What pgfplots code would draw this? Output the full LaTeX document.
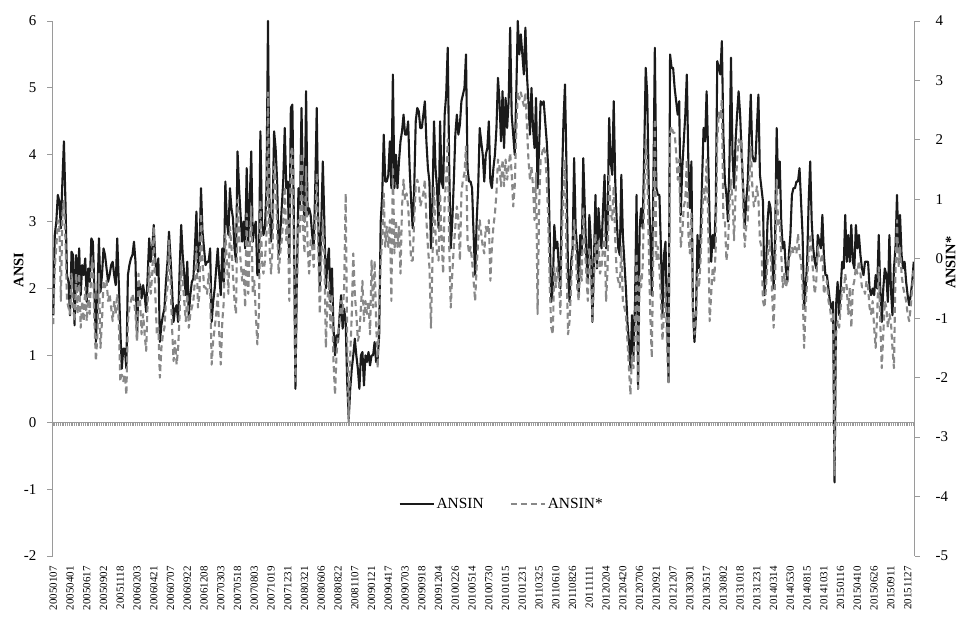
\documentclass[border=0pt]{standalone}
\usepackage{fontspec}
\setmainfont{Liberation Serif}
\usepackage{pgfplots}
\usepackage{pgfplotstable}
\pgfplotsset{compat=1.18}
\definecolor{axisgray}{HTML}{9A9A9A}
\definecolor{solidc}{HTML}{1A1A1A}
\definecolor{dashc}{HTML}{888888}
\pgfplotstableread{
ansin ansinstar
1.6 -1.10
2.8 -0.14
3.0 0.20
3.4 0.65
3.3 0.54
2.9 -0.71
3.6 0.76
4.2 0.99
3.3 0.31
2.2 -0.71
2.1 -0.82
1.6 -0.93
2.55 -0.25
2.5 -0.82
1.45 -1.05
2.5 -0.25
2.0 -0.93
2.6 -0.25
1.9 -1.16
2.35 -0.71
2.2 -1.05
2.45 -0.48
1.8 -1.05
2.3 -0.59
2.1 -0.93
2.75 -0.14
2.7 -0.03
2.0 -1.05
1.2 -1.72
1.9 -1.27
2.75 -0.25
1.95 -1.50
2.2 -1.05
2.6 -0.37
2.5 -0.48
2.3 -0.37
2.1 -0.71
2.2 -0.59
2.35 -0.82
2.4 -1.05
2.2 -0.71
2.05 -0.93
2.75 -0.59
2.1 -1.05
1.4 -2.06
0.8 -1.95
1.1 -2.06
1.1 -1.95
0.8 -2.29
2.2 -1.05
2.35 -0.82
2.45 -0.71
2.5 -0.59
2.7 -0.71
2.4 -0.93
1.25 -1.38
2.1 -0.25
2.05 -0.71
1.85 -1.27
2.05 -0.93
1.9 -1.27
1.65 -1.55
2.2 -0.71
2.75 -0.14
2.4 -0.59
2.6 -0.25
2.95 0.54
2.4 -0.59
2.2 -1.27
2.45 -1.16
1.2 -2.00
1.45 -1.50
1.6 -1.27
1.7 -1.16
2.1 -0.71
2.4 -0.48
2.85 0.31
2.45 -0.37
2.0 -1.16
1.5 -1.72
1.7 -1.38
1.75 -1.78
1.5 -1.50
2.3 -0.93
2.95 -0.03
2.5 -0.37
2.2 -0.71
1.9 -1.05
2.4 -0.59
1.6 -1.16
1.9 -0.93
2.1 -0.82
2.15 -0.71
2.6 -0.37
3.15 0.20
2.25 -0.82
2.5 -0.59
3.5 0.76
2.85 -0.03
2.6 -0.48
2.35 -0.48
2.4 -0.59
2.4 -0.25
2.6 -0.48
1.5 -1.78
1.8 -1.38
2.0 -1.16
2.3 -0.93
2.6 -0.59
2.2 -1.27
1.9 -1.78
2.6 -1.05
2.1 -0.71
3.6 0.42
3.0 -0.03
2.8 -0.59
3.5 0.54
3.2 0.20
3.05 -0.25
2.6 -0.71
2.4 -0.93
4.05 0.99
3.5 0.42
3.1 -0.03
2.7 -0.37
3.0 -0.14
2.6 -0.82
3.8 0.76
2.7 -0.59
3.3 0.20
4.05 0.88
2.7 -0.59
2.9 -0.37
3.0 -0.93
2.2 -1.44
2.2 -0.93
4.35 0.99
3.0 -0.03
2.8 -0.25
2.9 -0.03
3.5 0.42
6.0 2.80
3.2 0.20
2.7 -0.25
3.1 0.20
4.35 1.55
4.1 1.33
3.6 0.54
2.5 -0.25
2.8 0.09
3.2 0.31
3.6 0.65
4.4 1.22
3.5 0.31
3.6 0.65
2.4 -0.71
4.7 1.78
4.75 1.89
3.0 0.09
0.5 -2.06
2.2 -0.48
3.5 0.65
3.2 0.42
4.7 1.78
3.4 0.54
3.0 0.09
4.95 1.55
3.1 0.20
3.2 -0.25
3.1 0.31
2.8 0.20
2.6 -0.14
3.5 0.65
4.7 1.44
3.0 0.20
2.0 -0.93
3.0 -0.03
3.9 0.65
3.0 0.09
2.0 -1.50
2.4 -0.71
2.6 -0.37
1.8 -1.16
2.3 -0.59
1.4 -1.72
1.0 -2.29
1.3 -1.61
1.2 -1.27
1.6 -1.05
1.9 -0.71
1.4 -0.93
1.7 -0.48
1.5 1.10
0.6 -1.38
0.05 -2.74
0.5 -1.61
0.8 -0.93
1.0 0.09
1.25 -0.59
1.0 -0.93
0.8 -1.38
0.5 -1.27
1.0 -0.82
1.05 -0.37
0.55 -1.05
1.0 -0.71
0.9 -0.93
1.05 -0.71
0.85 -1.27
1.0 -0.03
1.0 -0.82
1.2 -0.03
0.9 -1.05
0.95 -1.84
1.3 -0.93
3.0 -0.03
3.4 0.31
4.3 1.10
3.6 0.20
3.6 0.54
3.7 0.20
4.2 0.65
3.5 -0.71
5.2 1.55
3.5 0.09
4.0 0.65
3.5 0.20
3.9 0.54
4.2 -0.25
4.35 0.88
4.6 1.33
4.3 0.99
4.3 1.10
4.5 0.88
3.8 0.42
3.3 -0.03
2.9 -0.03
3.5 0.65
4.5 1.22
4.7 1.33
4.65 1.22
4.4 0.88
4.4 0.99
4.6 1.10
4.8 1.33
4.2 0.65
3.8 0.20
3.6 -0.14
2.6 -1.16
3.3 -0.03
4.5 1.22
3.8 0.42
3.5 0.09
2.9 -0.03
4.5 1.10
3.6 0.31
3.5 -0.25
4.6 0.99
4.9 1.33
5.6 2.01
3.8 0.20
2.6 -0.82
3.0 -0.25
3.6 0.20
4.3 0.54
4.6 0.88
4.3 0.65
4.45 -0.03
4.8 1.10
4.9 1.33
5.0 1.44
5.5 1.89
3.8 0.31
3.6 0.09
3.6 0.20
3.5 -0.03
2.8 -0.37
2.2 -0.71
3.0 -0.14
3.5 0.31
4.4 0.65
4.2 0.42
4.0 0.20
3.6 0.09
4.0 0.54
4.1 0.42
4.5 0.65
3.6 -0.37
3.5 0.20
3.8 0.54
4.0 0.76
4.4 1.10
5.15 1.67
4.8 1.55
4.2 1.22
4.95 1.67
4.1 1.22
4.85 1.67
4.4 1.33
4.8 1.55
5.9 1.78
4.6 1.44
4.3 0.88
4.0 1.22
4.9 2.12
6.0 2.80
5.5 2.68
5.8 2.80
5.5 2.68
5.2 2.57
5.9 2.80
5.2 2.23
4.8 1.67
4.3 1.33
5.0 1.55
4.4 1.22
4.1 0.65
4.85 1.44
3.5 -0.93
4.1 0.88
4.8 1.67
4.75 1.78
4.8 1.89
4.5 1.78
4.2 1.33
3.8 0.65
2.8 -0.48
1.8 -1.16
2.0 -1.27
2.95 -0.14
2.6 -0.48
2.7 -0.14
2.3 -0.37
2.0 -0.93
3.6 0.42
4.5 1.10
5.05 1.67
3.8 -0.03
2.2 -1.27
1.8 -1.05
2.4 -0.48
2.6 0.09
3.95 0.65
2.9 0.20
2.6 -0.48
1.9 -0.71
2.8 -0.14
2.5 -0.37
3.95 0.88
3.2 0.20
2.5 -0.25
2.1 -0.71
3.1 0.20
2.7 -0.14
1.5 -1.05
2.4 -0.37
3.4 0.42
2.3 -0.14
3.2 0.31
2.8 -0.25
2.6 -0.14
3.2 0.20
3.7 0.42
2.6 -0.71
3.0 -0.14
4.55 1.44
3.9 0.76
3.7 0.65
4.8 1.22
3.6 0.31
3.0 -0.25
2.6 -0.37
2.5 -0.48
3.7 0.20
2.8 -0.71
2.4 -0.82
2.0 -0.93
1.5 -1.38
1.2 -1.84
0.8 -2.29
1.6 -1.61
1.0 -1.84
1.8 -1.16
3.4 0.09
0.5 -2.18
2.9 -0.25
3.2 -0.48
2.9 -0.14
4.0 0.99
5.3 2.01
4.9 1.55
3.5 0.20
2.8 -0.93
1.9 -1.67
3.5 0.09
5.6 2.35
3.5 -0.03
3.4 0.20
3.4 -0.14
2.6 -0.71
1.6 -1.38
2.5 -0.93
2.7 -0.48
1.5 -1.38
0.6 -2.12
5.5 2.12
5.3 2.23
5.3 2.12
5.0 2.12
4.8 1.78
4.6 1.33
4.8 1.67
3.1 0.20
3.8 0.42
4.2 0.88
4.6 0.99
5.2 1.67
3.9 0.42
3.2 0.09
3.9 0.76
1.7 -0.93
1.2 -1.27
1.6 -1.05
2.8 -0.25
2.3 -0.48
2.8 -0.03
3.6 0.65
4.4 1.22
4.2 0.99
4.95 1.67
4.0 0.65
3.0 -1.05
2.4 -0.59
2.8 -0.14
2.6 -0.37
3.2 0.20
5.4 2.01
5.3 2.46
5.2 2.35
5.7 2.68
4.3 0.65
3.6 0.65
3.4 -0.03
3.0 0.20
3.9 0.88
5.45 1.33
4.0 0.99
3.5 0.31
4.2 1.10
4.6 1.67
4.95 2.01
4.6 1.89
4.0 2.01
3.5 0.88
2.9 0.20
3.3 0.54
3.6 0.65
4.3 1.33
4.9 1.89
4.0 1.22
3.9 0.88
3.9 0.99
4.4 1.22
4.9 0.99
3.7 0.31
3.5 0.20
3.3 -0.71
1.9 -0.82
2.3 -0.48
3.0 -0.03
3.3 0.31
3.2 0.09
2.5 -0.59
2.0 -1.16
2.8 -0.25
4.4 1.33
3.5 0.54
3.9 0.65
3.0 0.09
2.6 -0.48
2.7 -0.25
2.3 -0.48
2.1 -0.37
2.5 -0.03
2.8 0.09
3.4 0.20
3.5 0.09
3.5 0.20
3.6 0.09
3.6 0.42
3.8 0.09
3.3 -0.03
2.8 -0.48
1.7 -1.50
2.0 -0.82
2.4 -0.37
3.3 0.09
3.9 0.42
3.0 0.09
2.6 -0.25
2.4 -0.59
2.3 -0.37
2.8 0.20
2.7 -0.03
2.6 -0.03
3.1 0.09
2.5 -0.59
2.2 -0.48
2.2 -0.37
2.0 -0.71
1.8 -0.82
1.7 -1.05
1.8 -0.93
-0.9 -3.64
1.75 -1.27
2.1 -1.05
1.6 -1.16
2.0 -0.82
2.4 -0.48
2.3 -0.59
3.1 -0.25
2.4 -0.48
2.8 -0.93
2.4 -0.48
2.95 -1.16
2.4 -0.48
2.3 -0.37
2.95 -0.14
2.6 -0.25
2.8 -0.03
2.5 -0.25
2.3 -0.48
2.2 -0.48
2.4 -0.59
2.4 -0.37
2.4 -0.48
2.0 -0.82
1.9 -0.93
2.0 -0.71
1.9 -1.16
2.2 -1.50
2.0 -0.93
2.8 -0.14
2.0 -1.05
1.5 -1.84
2.0 -1.27
2.3 -0.71
2.2 -0.82
1.8 -1.16
2.8 -0.93
2.0 -1.05
1.6 -1.50
2.3 -1.84
2.6 -0.25
3.4 0.65
2.6 -0.14
3.1 0.20
2.5 -0.25
2.3 -0.48
2.4 -0.59
2.1 -0.71
1.9 -0.93
1.75 -1.05
1.9 -0.82
2.1 -0.48
2.4 -0.14
}\datatable
\begin{document}
\begin{tikzpicture}
\path[use as bounding box] (-52.5bp,-62bp) rectangle (906.5bp,556bp);
\begin{axis}[
  scale only axis, width=862bp, height=535bp,
  xmin=-0.5, xmax=565.5, ymin=-2, ymax=6,
  axis y line*=left, axis x line*=bottom,
  x axis line style={draw=none}, y axis line style={draw=axisgray, line width=0.9bp},
  xtick={0,11,...,561},
  xticklabels={20050107,20050401,20050617,20050902,20051118,20060203,20060421,20060707,20060922,20061208,20070303,20070518,20070803,20071019,20071231,20080321,20080606,20080822,20081107,20090121,20090417,20090703,20090918,20091204,20100226,20100514,20100730,20101015,20101231,20110325,20110610,20110826,20111111,20120204,20120420,20120706,20120921,20121207,20130301,20130517,20130802,20131018,20131231,20140314,20140530,20140815,20141031,20150116,20150410,20150626,20150911,20151127},
  xtick style={draw=none},
  xticklabel style={yshift=-5bp, rotate=90, anchor=east, inner sep=0pt, font=\fontsize{11}{11}\selectfont},
  ytick={-2,-1,...,6},
  ytick style={draw=axisgray, line width=0.9bp},
  tick align=outside, major tick length=5bp,
  yticklabel style={anchor=east, inner sep=0pt, xshift=-11bp, font=\fontsize{15}{15}\selectfont},
  /pgf/number format/assume math mode=true,
  ylabel={\textbf{ANSI}},
  ylabel style={at={(axis description cs:-0.0394,0.535)}, anchor=center, font=\fontsize{14.5}{14.5}\selectfont},
  clip=false,
]
\draw[axisgray, line width=4bp, dash pattern=on 0.9bp off 0.9bp] ([yshift=-2bp]axis cs:-0.5,0) -- ([yshift=-2bp]axis cs:565.5,0);
\draw[axisgray, line width=1bp] (axis cs:-0.5,0) -- (axis cs:565.5,0);
\addplot[solidc, line width=2.1bp, line join=round] table[x expr=\coordindex, y=ansin] {\datatable};
\end{axis}
\begin{axis}[
  scale only axis, width=862bp, height=535bp,
  xmin=-0.5, xmax=565.5, ymin=-5, ymax=4,
  axis y line*=right, hide x axis,
  y axis line style={draw=axisgray, line width=0.9bp},
  ytick={-5,-4,...,4},
  ytick style={draw=axisgray, line width=0.9bp},
  tick align=outside, major tick length=5bp,
  yticklabel style={anchor=west, inner sep=0pt, xshift=16bp, font=\fontsize{15}{15}\selectfont},
  /pgf/number format/assume math mode=true,
  ylabel={\textbf{ANSIN*}},
  ylabel style={at={(axis description cs:1.0418,0.548)}, anchor=center, font=\fontsize{14.5}{14.5}\selectfont},
  legend style={at={(axis description cs:0.521,0.097)}, anchor=center, draw=none, fill=none,
    font=\fontsize{15.5}{15.5}\selectfont, legend columns=2,
    /tikz/every even column/.append style={column sep=24bp},
    nodes={inner xsep=2bp}},
  legend image code/.code={\draw[#1] (0bp,0bp) -- (34bp,0bp);},
  clip=false,
]
\addlegendimage{solidc, line width=2.1bp}
\addlegendentry{ANSIN}
\addplot[dashc, line width=2.1bp, dash pattern=on 6bp off 4bp, line join=round] table[x expr=\coordindex, y=ansinstar] {\datatable};
\addlegendentry{ANSIN*}
\end{axis}
\end{tikzpicture}
\end{document}
